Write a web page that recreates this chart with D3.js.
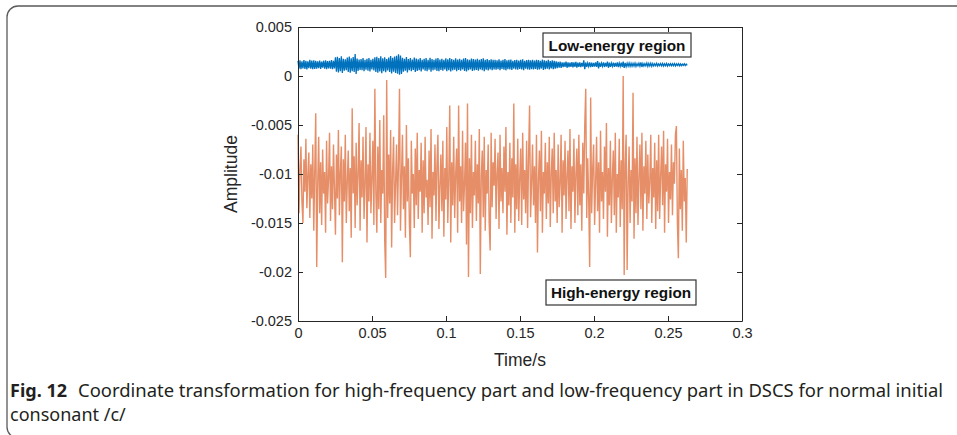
<!DOCTYPE html>
<html>
<head>
<meta charset="utf-8">
<script src="https://cdn.jsdelivr.net/npm/d3@7"></script>
<style>
  html, body { margin: 0; padding: 0; background: #fff; }
  svg { display: block; }
</style>
</head>
<body>
<div id="root"></div>
<script>
// signal sampled at a fixed step; last sample at ~0.263 s
const sampleStep = 0.263 / 395;

// high-energy part, units of 1e-4
const highEnergy = [
  -60,-140,-95,-72,-128,-150,-85,-118,-64,-135,-102,-78,-145,-90,-125,-70,-158,-96,-38,-195,
  -110,-62,-140,-88,-152,-75,-120,-98,-160,-66,-130,-105,-58,-148,-92,-136,-70,-115,-162,-80,
  -125,-55,-142,-98,-72,-190,-85,-128,-60,-150,-108,-76,-138,-94,-165,-33,-120,-82,-155,-68,
  -132,-100,-48,-158,-86,-124,-62,-146,-110,-52,-170,-90,-128,-58,-140,-104,-66,-152,-13,-118,
  -160,-72,-136,-45,-150,-96,-120,-40,-168,-206,-4,-145,-80,-130,-55,-175,-98,-62,-150,-110,
  -70,-142,-88,-13,-158,-104,-60,-136,-92,-165,-50,-128,-84,-148,-185,-66,-120,-100,-155,-74,
  -132,-58,-146,-96,-118,-68,-160,-86,-140,-62,-124,-106,-152,-76,-134,-54,-166,-98,-122,-70,
  -148,-90,-60,-156,-112,-80,-138,-66,-164,-94,-126,-52,-150,-104,-30,-170,-88,-132,-62,-145,
  -100,-74,-160,-30,-128,-92,-150,-56,-138,-110,-68,-172,-28,-205,-84,-140,-60,-155,-98,-122,
  -66,-148,-90,-130,-54,-202,-102,-76,-144,-62,-158,-96,-120,-70,-150,-178,-58,-134,-88,-112,
  -64,-146,-100,-78,-156,-60,-128,-94,-140,-72,-118,-52,-162,-98,-132,-68,-150,-84,-124,-28,
  -160,-90,-136,-64,-148,-104,-74,-152,-58,-126,-96,-140,-66,-155,-82,-30,-144,-110,-70,-132,
  -92,-150,-60,-180,-106,-76,-138,-56,-160,-98,-120,-68,-146,-88,-130,-62,-154,-100,-74,-140,
  -58,-128,-96,-150,-70,-134,-110,-60,-160,-86,-122,-66,-146,-102,-76,-138,-54,-156,-92,-118,
  -64,-150,-100,-74,-142,-60,-132,-90,-158,-68,-120,-50,-13,-145,-84,-126,-195,-22,-140,-96,
  -70,-152,-110,-62,-138,-88,-160,-56,-128,-98,-146,-72,-118,-48,-164,-94,-132,-66,-150,-104,
  -76,-142,-58,-160,-100,-124,-64,-154,-86,-136,0,-203,-90,-60,-198,-110,-72,-150,-96,-128,
  -17,-166,-84,-140,-62,-152,-104,-70,-136,-58,-158,-92,-120,-66,-146,-80,-130,-108,-60,-150,
  -94,-124,-68,-156,-86,-138,-60,-146,-102,-72,-132,-56,-160,-90,-118,-64,-150,-98,-126,-70,
  -142,-88,-110,-60,-51,-150,-186,-74,-136,-96,-158,-66,-128,-104,-170,-95
];

// low-energy part, units of 1e-5
const lowEnergy = [
  155,75,160,70,150,78,162,72,156,68,150,80,164,74,158,70,160,72,154,76,
  150,80,158,72,146,84,156,74,160,70,152,78,156,76,162,70,154,78,190,45,
  196,36,182,48,200,30,176,54,170,60,188,42,198,34,180,50,194,40,225,20,
  178,52,168,62,172,58,182,48,166,64,176,54,184,46,164,66,176,56,190,40,
  196,34,184,46,202,28,180,50,192,38,174,56,188,42,204,26,186,44,198,32,
  206,24,222,12,210,22,186,44,176,54,194,36,172,58,182,48,168,62,188,42,
  178,52,170,60,184,46,164,66,176,54,182,48,166,64,186,44,172,58,166,64,
  178,52,182,48,168,62,176,54,164,66,180,50,170,60,184,46,172,58,166,64,
  180,50,168,62,176,54,164,66,178,52,184,46,170,60,164,66,178,52,172,58,
  168,62,176,54,164,66,172,58,180,50,166,64,174,56,162,68,170,60,164,66,
  166,64,160,70,170,60,158,72,166,64,172,58,160,70,164,66,168,62,156,74,
  162,68,166,64,158,72,164,66,170,60,156,74,162,68,166,64,160,70,164,66,
  158,72,166,64,162,68,154,76,168,62,160,70,156,74,164,66,152,78,160,70,
  156,74,150,80,144,86,148,82,140,90,138,92,146,84,140,90,136,94,142,88,
  138,92,144,86,136,94,140,90,134,96,160,70,138,92,132,98,140,90,136,94,
  134,96,138,92,152,78,136,94,132,98,138,92,134,96,146,84,136,94,132,98,
  136,94,134,96,140,90,132,98,136,94,148,82,134,96,130,100,132,98,130,100,
  128,102,132,98,126,104,130,100,138,92,128,102,126,104,132,98,128,102,130,100,
  127,103,125,105,129,101,124,106,127,103,128,102,125,105,128,102,124,106,126,104,
  125,105,127,103,123,107,126,104,124,106,122,108,124,106,121,109
];

const xTicks = [0, 0.05, 0.1, 0.15, 0.2, 0.25, 0.3];
const xTickLabels = ["0", "0.05", "0.1", "0.15", "0.2", "0.25", "0.3"];
const yTicks = [-0.025, -0.02, -0.015, -0.01, -0.005, 0, 0.005];
const yTickLabels = ["-0.025", "-0.02", "-0.015", "-0.01", "-0.005", "0", "0.005"];

const width = 957;
const height = 435;
const plot = { left: 298, right: 742, top: 27, bottom: 321 };

const svg = d3
  .select("#root")
  .append("svg")
  .attr("width", width)
  .attr("height", height);

// figure frame (runs off the right and bottom edges)
svg
  .append("rect")
  .attr("x", 7)
  .attr("y", 6)
  .attr("width", 1000)
  .attr("height", 432)
  .attr("rx", 11)
  .attr("fill", "none")
  .attr("stroke", "#5a5a5a")
  .attr("stroke-width", 1.3);

const xScale = d3.scaleLinear().domain([0, 0.3]).range([plot.left, plot.right]);
const yScale = d3.scaleLinear().domain([-0.025, 0.005]).range([plot.bottom, plot.top]);

const tickFont = "'Liberation Sans', Arial, Helvetica, sans-serif";

// signals
const highLine = d3
  .line()
  .x((d, i) => xScale(i * sampleStep))
  .y((d) => yScale(d * 1e-4));
const lowLine = d3
  .line()
  .x((d, i) => xScale(i * sampleStep))
  .y((d) => yScale(d * 1e-5));

svg
  .append("path")
  .datum(highEnergy)
  .attr("d", highLine)
  .attr("fill", "none")
  .attr("stroke", "#D95319")
  .attr("stroke-opacity", 0.66)
  .attr("stroke-width", 1.4);

svg
  .append("path")
  .datum(lowEnergy)
  .attr("d", lowLine)
  .attr("fill", "none")
  .attr("stroke", "#0072BD")
  .attr("stroke-width", 1.3);

// axes, ticks pointing inward like MATLAB
const styleAxis = (g) => {
  g.attr("font-family", tickFont).attr("font-size", 14.5);
  g.selectAll("path, line").attr("stroke", "#262626").attr("stroke-width", 1);
  g.selectAll("text").attr("fill", "#262626");
};

svg
  .append("g")
  .attr("transform", `translate(0, ${plot.bottom})`)
  .call(
    d3.axisBottom(xScale).tickValues(xTicks)
      .tickFormat((d, i) => xTickLabels[i])
      .tickSizeInner(-5).tickSizeOuter(0).tickPadding(7)
  )
  .call(styleAxis);

svg
  .append("g")
  .attr("transform", `translate(0, ${plot.top})`)
  .call(
    d3.axisTop(xScale).tickValues(xTicks).tickFormat("")
      .tickSizeInner(-5).tickSizeOuter(0)
  )
  .call(styleAxis);

svg
  .append("g")
  .attr("transform", `translate(${plot.left}, 0)`)
  .call(
    d3.axisLeft(yScale).tickValues(yTicks)
      .tickFormat((d, i) => yTickLabels[i])
      .tickSizeInner(-5).tickSizeOuter(0).tickPadding(6)
  )
  .call(styleAxis);

svg
  .append("g")
  .attr("transform", `translate(${plot.right}, 0)`)
  .call(
    d3.axisRight(yScale).tickValues(yTicks).tickFormat("")
      .tickSizeInner(-5).tickSizeOuter(0)
  )
  .call(styleAxis);

// axis labels
svg
  .append("text")
  .attr("x", (plot.left + plot.right) / 2)
  .attr("y", 366)
  .attr("text-anchor", "middle")
  .attr("font-family", tickFont)
  .attr("font-size", 17.5)
  .attr("fill", "#262626")
  .text("Time/s");

svg
  .append("text")
  .attr("transform", `translate(237, ${(plot.top + plot.bottom) / 2}) rotate(-90)`)
  .attr("text-anchor", "middle")
  .attr("font-family", tickFont)
  .attr("font-size", 17.5)
  .attr("fill", "#262626")
  .text("Amplitude");

// region annotations
const boxes = [
  { label: "Low-energy region", x: 543, y: 33, w: 148, h: 24 },
  { label: "High-energy region", x: 546, y: 280, w: 150, h: 25 }
];
boxes.forEach((b) => {
  svg
    .append("rect")
    .attr("x", b.x)
    .attr("y", b.y)
    .attr("width", b.w)
    .attr("height", b.h)
    .attr("fill", "#fff")
    .attr("stroke", "#333")
    .attr("stroke-width", 1.2);
  svg
    .append("text")
    .attr("x", b.x + b.w / 2)
    .attr("y", b.y + b.h / 2 + 5.5)
    .attr("text-anchor", "middle")
    .attr("font-family", tickFont)
    .attr("font-weight", "bold")
    .attr("font-size", 15.3)
    .attr("fill", "#111")
    .text(b.label);
});

// caption
const captionFont = "'Noto Sans', 'Open Sans', sans-serif";
const caption = svg
  .append("text")
  .attr("x", 10)
  .attr("y", 397)
  .attr("font-family", captionFont)
  .attr("font-size", 18)
  .attr("fill", "#231f20");
caption.append("tspan").attr("font-weight", "bold").text("Fig. 12");
caption
  .append("tspan")
  .attr("x", 78)
  .attr("textLength", 865)
  .attr("lengthAdjust", "spacingAndGlyphs")
  .text("Coordinate transformation for high-frequency part and low-frequency part in DSCS for normal initial");

svg
  .append("text")
  .attr("x", 10)
  .attr("y", 421)
  .attr("font-family", captionFont)
  .attr("font-size", 18)
  .attr("fill", "#231f20")
  .text("consonant /c/");
</script>
</body>
</html>
